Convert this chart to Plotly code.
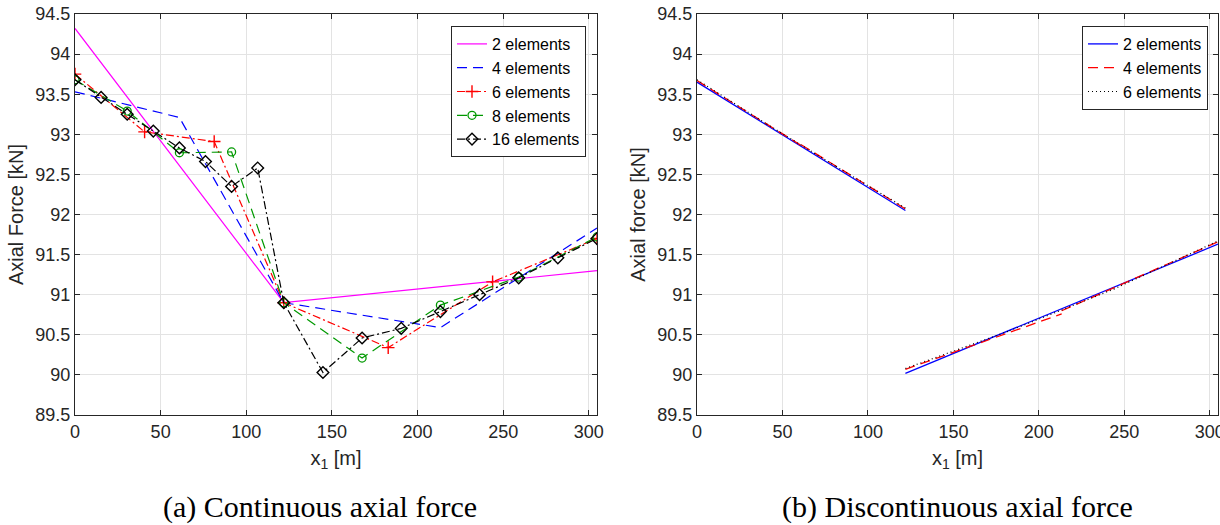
import plotly.graph_objects as go

# ---------- (a) Continuous axial force ----------
x_2 = [0, 121.92, 304.8]
y_2 = [94.32, 90.90, 91.30]

x_4 = [0, 60.96, 121.92, 213.36, 304.8]
y_4 = [93.53, 93.21, 90.90, 90.59, 91.83]

x_6 = [0, 40.64, 81.28, 121.92, 182.88, 243.84, 304.8]
y_6 = [93.75, 93.03, 92.91, 90.90, 90.34, 91.16, 91.70]

x_8 = [0, 30.48, 60.96, 91.44, 121.92, 167.64, 213.36, 259.08, 304.8]
y_8 = [93.68, 93.29, 92.77, 92.78, 90.90, 90.21, 90.87, 91.22, 91.72]

x_16 = [0, 15.24, 30.48, 45.72, 60.96, 76.2, 91.44, 106.68, 121.92,
        144.78, 167.64, 190.5, 213.36, 236.22, 259.08, 281.94, 304.8]
y_16 = [93.68, 93.46, 93.25, 93.04, 92.83, 92.66, 92.35, 92.58, 90.90,
        90.03, 90.46, 90.58, 90.79, 91.00, 91.21, 91.46, 91.70]

# ---------- (b) Discontinuous axial force (None separates elements) ----------
xb_2 = [0, 121.92, None, 121.92, 304.8]
yb_2 = [93.65, 92.05, None, 90.02, 91.63]

xb_4 = [0, 60.96, None, 60.96, 121.92, None, 121.92, 213.36, None, 213.36, 304.8]
yb_4 = [93.67, 92.86, None, 92.87, 92.07, None, 90.07, 90.76, None, 90.80, 91.66]

xb_6 = [0, 40.64, None, 40.64, 81.28, None, 81.28, 121.92, None,
        121.92, 182.88, None, 182.88, 243.84, None, 243.84, 304.8]
yb_6 = [93.68, 93.13, None, 93.13, 92.60, None, 92.60, 92.08, None,
        90.08, 90.55, None, 90.55, 91.07, None, 91.07, 91.67]

x_ticks = [0, 50, 100, 150, 200, 250, 300]
y_ticks = [89.5, 90, 90.5, 91, 91.5, 92, 92.5, 93, 93.5, 94, 94.5]
y_ticklabels = ["89.5", "90", "90.5", "91", "91.5", "92", "92.5", "93", "93.5", "94", "94.5"]

FONT = "Liberation Sans"
TXT = "#262626"
W, H = 1220, 525

fig = go.Figure()

lw = 1.2
DASH = "10px,6px"
DASHDOT = "8px,3px,2px,3px"
fig.add_trace(go.Scatter(x=x_2, y=y_2, mode="lines", name="2 elements",
                         line=dict(color="#ff00ff", width=lw), xaxis="x", yaxis="y", legend="legend"))
fig.add_trace(go.Scatter(x=x_4, y=y_4, mode="lines", name="4 elements",
                         line=dict(color="#0000ff", width=lw, dash=DASH), xaxis="x", yaxis="y", legend="legend"))
fig.add_trace(go.Scatter(x=x_6, y=y_6, mode="lines+markers", name="6 elements",
                         line=dict(color="#ff0000", width=lw, dash=DASHDOT),
                         marker=dict(symbol="cross-thin-open", size=9, line=dict(color="#ff0000", width=1.4)),
                         xaxis="x", yaxis="y", legend="legend"))
fig.add_trace(go.Scatter(x=x_8, y=y_8, mode="lines+markers", name="8 elements",
                         line=dict(color="#009900", width=lw, dash=DASH),
                         marker=dict(symbol="circle-open", size=8, color="#009900", line=dict(color="#009900", width=1.3)),
                         xaxis="x", yaxis="y", legend="legend"))
fig.add_trace(go.Scatter(x=x_16, y=y_16, mode="lines+markers", name="16 elements",
                         line=dict(color="#000000", width=lw, dash=DASHDOT),
                         marker=dict(symbol="diamond-open", size=9, color="#000000", line=dict(color="#000000", width=1.4)),
                         xaxis="x", yaxis="y", legend="legend"))

fig.add_trace(go.Scatter(x=xb_2, y=yb_2, mode="lines", name="2 elements",
                         line=dict(color="#0000ff", width=1.3), xaxis="x2", yaxis="y2", legend="legend2"))
fig.add_trace(go.Scatter(x=xb_4, y=yb_4, mode="lines", name="4 elements",
                         line=dict(color="#ff0000", width=1.3, dash=DASH), xaxis="x2", yaxis="y2", legend="legend2"))
fig.add_trace(go.Scatter(x=xb_6, y=yb_6, mode="lines", name="6 elements",
                         line=dict(color="#000000", width=1.2, dash="1px,3px"), xaxis="x2", yaxis="y2", legend="legend2"))

y_dom = [1 - 415 / H, 1 - 14 / H]
axis_common = dict(
    showline=True, linecolor=TXT, linewidth=1, mirror="allticks",
    ticks="inside", ticklen=5, tickcolor=TXT, tickwidth=1,
    showgrid=True, gridcolor="#e3e3e3", gridwidth=1, zeroline=False,
    automargin=False, ticklabeloverflow="allow",
    tickfont=dict(family=FONT, size=18, color=TXT),
)
xaxis_common = dict(axis_common, range=[0, 304.8], tickvals=x_ticks,
                    title=dict(text="x<sub>1</sub> [m]", font=dict(family=FONT, size=20, color=TXT), standoff=10))
yaxis_common = dict(axis_common, range=[89.5, 94.5], tickvals=y_ticks, ticktext=y_ticklabels)

legend_common = dict(bgcolor="white", bordercolor=TXT, borderwidth=1,
                     font=dict(family=FONT, size=16, color="#000000"),
                     xanchor="right", yanchor="top", tracegroupgap=0, itemwidth=30)

fig.update_layout(
    template="none",
    width=W, height=H,
    margin=dict(l=0, r=0, t=0, b=0),
    paper_bgcolor="white", plot_bgcolor="white",
    showlegend=True,
    xaxis=dict(xaxis_common, domain=[75 / W, 597 / W], anchor="y"),
    yaxis=dict(yaxis_common, domain=y_dom, anchor="x",
               title=dict(text="Axial Force [kN]", font=dict(family=FONT, size=20, color=TXT), standoff=6)),
    xaxis2=dict(xaxis_common, domain=[697 / W, 1218 / W], anchor="y2"),
    yaxis2=dict(yaxis_common, domain=y_dom, anchor="x2",
                title=dict(text="Axial force [kN]", font=dict(family=FONT, size=20, color=TXT), standoff=6)),
    legend=dict(legend_common, x=586 / W, y=1 - 26 / H),
    legend2=dict(legend_common, x=1208 / W, y=1 - 26 / H),
    annotations=[
        dict(text="(a) Continuous axial force", x=320 / W, y=1 - 507 / H, xref="paper", yref="paper",
             showarrow=False, xanchor="center", yanchor="middle",
             font=dict(family="Liberation Serif", size=30, color="#000000")),
        dict(text="(b) Discontinuous axial force", x=957 / W, y=1 - 507 / H, xref="paper", yref="paper",
             showarrow=False, xanchor="center", yanchor="middle",
             font=dict(family="Liberation Serif", size=30, color="#000000")),
    ],
)

fig.write_html("out.html")
